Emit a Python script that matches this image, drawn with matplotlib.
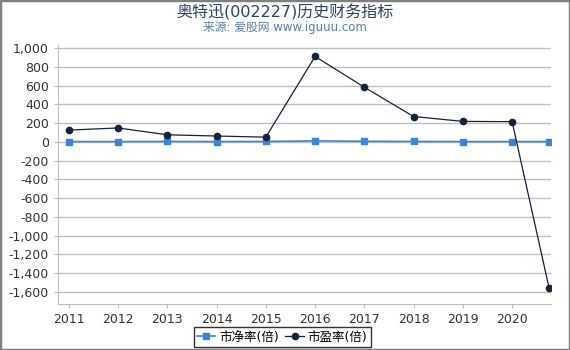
import matplotlib
matplotlib.use("Agg")
import matplotlib.pyplot as plt
from matplotlib.ticker import FuncFormatter

plt.rcParams['font.family'] = ['DejaVu Sans', 'Noto Sans CJK SC']

x_pos = [2011, 2012, 2013, 2014, 2015, 2016, 2017, 2018, 2019, 2020, 2020.75]
tick_years = [2011, 2012, 2013, 2014, 2015, 2016, 2017, 2018, 2019, 2020]
pb = [3, 3, 4, 3, 4, 10, 6, 4, 3, 3, 3]
pe = [125, 148, 75, 62, 50, 910, 582, 270, 218, 215, -1555]
yticks = list(range(-1600, 1001, 200))

fig = plt.figure(figsize=(5.7, 3.5), dpi=100)
ax = fig.add_axes([58/570, 1-304/350, (551-58)/570, (304-45)/350])

ax.plot(x_pos, pb, color='#3a86d8', marker='s', markersize=4.5, linewidth=1.2, label='市净率(倍)', zorder=3)
ax.plot(x_pos, pe, color='#14233d', marker='o', markersize=4.5, linewidth=0.9, label='市盈率(倍)', zorder=4)

ax.set_xlim(2010.78, 2020.79)
ax.set_ylim(-1728, 1032)
ax.set_xticks(tick_years)
ax.set_xticklabels([str(y) for y in tick_years])
ax.set_yticks(yticks)
ax.yaxis.set_major_formatter(FuncFormatter(lambda v, p: f"{int(v):,}"))
ax.grid(axis='y', color='#c0c0c0', linewidth=1)
ax.set_axisbelow(True)
for s in ['top', 'right']:
    ax.spines[s].set_visible(False)
ax.spines['left'].set_color('#c0c0c0')
ax.spines['bottom'].set_color('#c0c0c0')
ax.tick_params(axis='both', labelsize=9, colors='#333333', length=3)
ax.tick_params(axis='both', color='#c0c0c0')

fig.text(0.5, 1-12/350, '奥特迅(002227)历史财务指标', ha='center', va='center', fontsize=11.5, color='#2b4566')
fig.text(0.5, 1-28/350, '来源: 爱股网 www.iguuu.com', ha='center', va='center', fontsize=8.5, color='#5a7fa8')

leg = fig.legend(loc='center', bbox_to_anchor=(282/570, 1-337/350), ncol=2, fontsize=9,
                 frameon=True, fancybox=False, edgecolor='black', handlelength=1.5,
                 handletextpad=0.3, columnspacing=0.5, borderpad=0.25)
leg.get_frame().set_linewidth(1)

border = plt.Rectangle((0, 0), 1, 1, transform=fig.transFigure, fill=False, edgecolor='#808080', linewidth=2.5)
fig.patches.append(border)

fig.savefig('out.png', dpi=100)
